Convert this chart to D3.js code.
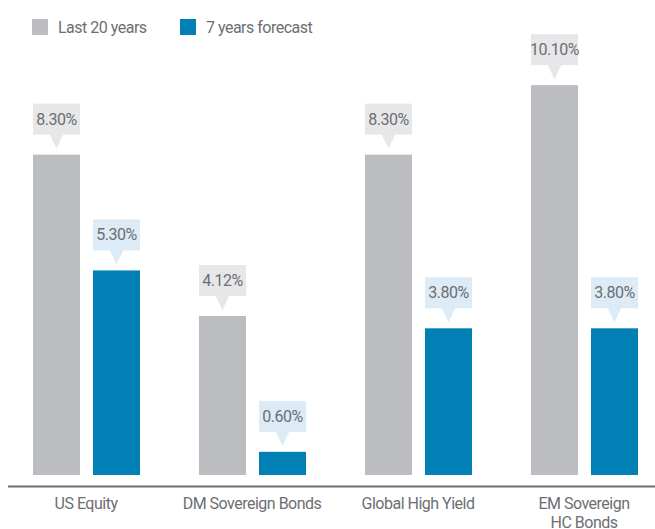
<!DOCTYPE html>
<html>
<head>
<meta charset="utf-8">
<script src="https://cdn.jsdelivr.net/npm/d3@7"></script>
<style>
  body { margin: 0; background: #fff; }
  text { font-family: "Roboto", "Liberation Sans", sans-serif; letter-spacing: -0.5px; }
</style>
</head>
<body>
<div id="chart"></div>
<script>
var categories = ["US Equity", "DM Sovereign Bonds", "Global High Yield", "EM Sovereign HC Bonds"]
var seriesNames = ["Last 20 years", "7 years forecast"]
var last20 = [8.30, 4.12, 8.30, 10.10]
var forecast = [5.30, 0.60, 3.80, 3.80]

var width = 655
var height = 529
var baseY = 475

var barColor = ["#bcbdc1", "#0080b4"]
var boxColor = ["#e6e7e8", "#dcebf5"]
var textColor = "#6d6e71"

var svg = d3.select("#chart")
  .append("svg")
    .attr("width", width)
    .attr("height", height)

var x0 = d3.scaleBand()
  .domain(categories)
  .range([3.5, 667.5])

var x1 = d3.scaleBand()
  .domain(seriesNames)
  .range([29.5, 136.5])
  .paddingInner(0.2167)

var y = d3.scaleLinear()
  .domain([0, 10])
  .range([baseY, baseY - 386])

var fmt = d3.format(".2f")

// flatten into one row per bar
var rows = []
categories.forEach(function(c, i) {
  rows.push({ cat: c, s: 0, v: last20[i] })
  rows.push({ cat: c, s: 1, v: forecast[i] })
})

var g = svg.append("g")

g.selectAll("rect.bar")
  .data(rows)
  .enter()
  .append("rect")
    .attr("class", "bar")
    .attr("x", function(d){ return x0(d.cat) + x1(seriesNames[d.s]) })
    .attr("y", function(d){ return y(d.v) })
    .attr("width", x1.bandwidth())
    .attr("height", function(d){ return baseY - y(d.v) })
    .style("fill", function(d){ return barColor[d.s] })

// callouts
var call = g.selectAll("g.callout")
  .data(rows)
  .enter()
  .append("g")
    .attr("class", "callout")
    .attr("transform", function(d){
      return "translate(" + (x0(d.cat) + x1(seriesNames[d.s])) + "," + y(d.v) + ")"
    })

var bw = x1.bandwidth()

call.append("rect")
    .attr("x", 0)
    .attr("y", -51)
    .attr("width", bw)
    .attr("height", 31)
    .style("fill", function(d){ return boxColor[d.s] })

call.append("path")
    .attr("d", "M" + (bw/2 - 7) + ",-20.5 L" + (bw/2 + 7) + ",-20.5 L" + (bw/2) + ",-6 Z")
    .style("fill", function(d){ return boxColor[d.s] })

call.append("text")
    .attr("x", bw/2)
    .attr("y", -30)
    .attr("text-anchor", "middle")
    .style("font-size", "16px")
    .style("fill", textColor)
    .text(function(d){ return fmt(d.v) + "%" })

// axis line
svg.append("line")
    .attr("x1", 8)
    .attr("x2", width)
    .attr("y1", 486.5)
    .attr("y2", 486.5)
    .style("stroke", "#6d6e71")
    .style("stroke-width", 2)

// category labels, EM one wraps
var lab = svg.selectAll("text.cat")
  .data(categories)
  .enter()
  .append("text")
    .attr("class", "cat")
    .attr("x", function(d){ return x0(d) + x0.bandwidth()/2 - 0.5 })
    .attr("y", 509)
    .attr("text-anchor", "middle")
    .style("font-size", "16px")
    .style("fill", textColor)

lab.each(function(d){
  var t = d3.select(this)
  var lines = d == "EM Sovereign HC Bonds" ? ["EM Sovereign", "HC Bonds"] : [d]
  lines.forEach(function(l, i){
    t.append("tspan")
      .attr("x", t.attr("x"))
      .attr("dy", i == 0 ? 0 : 19)
      .text(l)
  })
})

// legend
var leg = svg.selectAll("g.legend")
  .data(seriesNames)
  .enter()
  .append("g")
    .attr("class", "legend")
    .attr("transform", function(d, i){ return "translate(" + (32 + i*148) + ",19)" })

leg.append("rect")
    .attr("width", 16)
    .attr("height", 16)
    .style("fill", function(d, i){ return barColor[i] })

leg.append("text")
    .attr("x", 26)
    .attr("y", 13.5)
    .style("font-size", "16px")
    .style("fill", textColor)
    .text(function(d){ return d })
</script>
</body>
</html>
